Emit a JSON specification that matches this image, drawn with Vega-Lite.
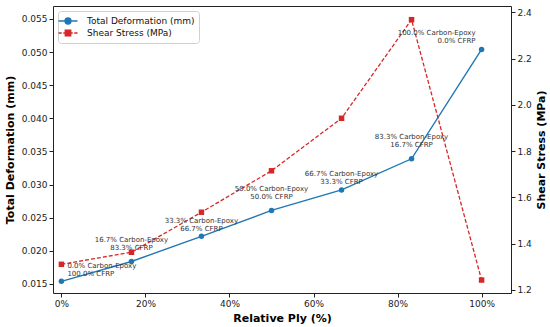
{
  "$schema": "https://vega.github.io/schema/vega-lite/v6.json",
  "width": 458,
  "height": 287,
  "autosize": "none",
  "padding": {"left": 53, "top": 6, "right": 39, "bottom": 34},
  "background": "white",
  "config": {
    "font": "DejaVu Sans",
    "view": {"stroke": "#222", "strokeWidth": 1},
    "axis": {
      "labelFont": "DejaVu Sans", "labelFontSize": 9, "labelColor": "#222",
      "titleFont": "DejaVu Sans", "titleFontSize": 11, "titleFontWeight": "bold", "titleColor": "#000",
      "tickColor": "#222", "tickSize": 4, "labelPadding": 2, "domain": false, "grid": false
    }
  },
  "data": {
    "values": [
      {"ply": 0, "deformation": 0.0154, "shear": 1.311, "label": "0.0% Carbon-Epoxy\n100.0% CFRP"},
      {"ply": 16.67, "deformation": 0.0184, "shear": 1.363, "label": "16.7% Carbon-Epoxy\n83.3% CFRP"},
      {"ply": 33.33, "deformation": 0.0222, "shear": 1.536, "label": "33.3% Carbon-Epoxy\n66.7% CFRP"},
      {"ply": 50, "deformation": 0.0261, "shear": 1.715, "label": "50.0% Carbon-Epoxy\n50.0% CFRP"},
      {"ply": 66.67, "deformation": 0.0292, "shear": 1.942, "label": "66.7% Carbon-Epoxy\n33.3% CFRP"},
      {"ply": 83.33, "deformation": 0.0339, "shear": 2.368, "label": "83.3% Carbon-Epoxy\n16.7% CFRP"},
      {"ply": 100, "deformation": 0.0504, "shear": 1.243, "label": "100.0% Carbon-Epoxy\n0.0% CFRP"}
    ]
  },
  "encoding": {
    "x": {"field": "ply", "type": "quantitative",
      "scale": {"domain": [-2, 107], "nice": false, "zero": false},
      "axis": {"values": [0, 20, 40, 60, 80, 100], "labelExpr": "datum.value + '%'", "title": "Relative Ply (%)", "titlePadding": 4}}
  },
  "layer": [
    {
      "encoding": {
        "y": {"field": "deformation", "type": "quantitative",
          "scale": {"domain": [0.01364, 0.05696], "nice": false, "zero": false},
          "axis": {"orient": "left", "title": "Total Deformation (mm)", "values": [0.015, 0.02, 0.025, 0.03, 0.035, 0.04, 0.045, 0.05, 0.055], "format": ".3f", "titlePadding": 6}}
      },
      "layer": [
        {"mark": {"type": "line", "strokeWidth": 1.4},
          "encoding": {"color": {"datum": "Total Deformation (mm)", "type": "nominal",
            "scale": {"domain": ["Total Deformation (mm)", "Shear Stress (MPa)"], "range": ["#1f77b4", "#d62728"]},
            "legend": {"title": null, "orient": "top-left", "offset": 5, "fillColor": "white", "strokeColor": "#d0d0d0", "cornerRadius": 3, "padding": 4, "labelFontSize": 9, "labelFont": "DejaVu Sans", "labelColor": "#111", "symbolSize": 100, "rowPadding": 0, "labelOffset": 13,
              "encode": {"symbols": {"update": {
                "shape": {"signal": "datum.value === 'Total Deformation (mm)' ? 'M-1.9,0H1.9M-0.6,0A0.6,0.6 0 1,0 0.6,0A0.6,0.6 0 1,0 -0.6,0Z' : 'M-1.9,0H-1.25M-0.95,0H-0.6M0.6,0H0.95M1.25,0H1.9M-0.55,-0.55H0.55V0.55H-0.55Z'"},
                "fill": {"signal": "datum.value === 'Total Deformation (mm)' ? '#1f77b4' : '#d62728'"},
                "stroke": {"signal": "datum.value === 'Total Deformation (mm)' ? '#1f77b4' : '#d62728'"},
                "strokeWidth": {"value": 1.3},
                "strokeDash": {"value": []},
                "opacity": {"value": 1}
              }}}}}}},
        {"mark": {"type": "point", "filled": true, "size": 30, "opacity": 1, "shape": "circle"},
          "encoding": {"color": {"datum": "Total Deformation (mm)", "type": "nominal"}}}
      ]
    },
    {
      "encoding": {
        "y": {"field": "shear", "type": "quantitative",
          "scale": {"domain": [1.187, 2.427], "nice": false, "zero": false},
          "axis": {"orient": "right", "title": "Shear Stress (MPa)", "values": [1.2, 1.4, 1.6, 1.8, 2.0, 2.2, 2.4], "format": ".1f", "titleAngle": -90, "titleBaseline": "top", "titlePadding": 4}}
      },
      "layer": [
        {"mark": {"type": "line", "strokeWidth": 1.3, "strokeDash": [4, 2]},
          "encoding": {"color": {"datum": "Shear Stress (MPa)", "type": "nominal"}}},
        {"mark": {"type": "point", "filled": true, "size": 30, "opacity": 1, "shape": "square"},
          "encoding": {"color": {"datum": "Shear Stress (MPa)", "type": "nominal"}}}
      ]
    },
    {
      "encoding": {
        "y": {"field": "deformation", "type": "quantitative",
          "scale": {"domain": [0.01364, 0.05696], "nice": false, "zero": false}, "axis": null},
        "text": {"field": "label", "type": "nominal"}
      },
      "layer": [
        {"transform": [{"filter": "datum.ply == 0"}],
          "mark": {"type": "text", "align": "left", "baseline": "middle", "dx": 6, "dy": -15.5, "fontSize": 7, "lineBreak": "\n", "lineHeight": 8, "color": "#333", "font": "DejaVu Sans"}},
        {"transform": [{"filter": "datum.ply == 100"}],
          "mark": {"type": "text", "align": "right", "baseline": "middle", "dx": -6, "dy": -16, "fontSize": 7, "lineBreak": "\n", "lineHeight": 8, "color": "#333", "font": "DejaVu Sans"}},
        {"transform": [{"filter": "datum.ply == 16.67 || datum.ply == 50 || datum.ply == 83.33"}],
          "mark": {"type": "text", "align": "center", "baseline": "middle", "dy": -21.5, "fontSize": 7, "lineBreak": "\n", "lineHeight": 8, "color": "#333", "font": "DejaVu Sans"}},
        {"transform": [{"filter": "datum.ply == 33.33 || datum.ply == 66.67"}],
          "mark": {"type": "text", "align": "center", "baseline": "middle", "dy": -15.5, "fontSize": 7, "lineBreak": "\n", "lineHeight": 8, "color": "#333", "font": "DejaVu Sans"}}
      ]
    }
  ],
  "resolve": {"scale": {"y": "independent"}}
}
